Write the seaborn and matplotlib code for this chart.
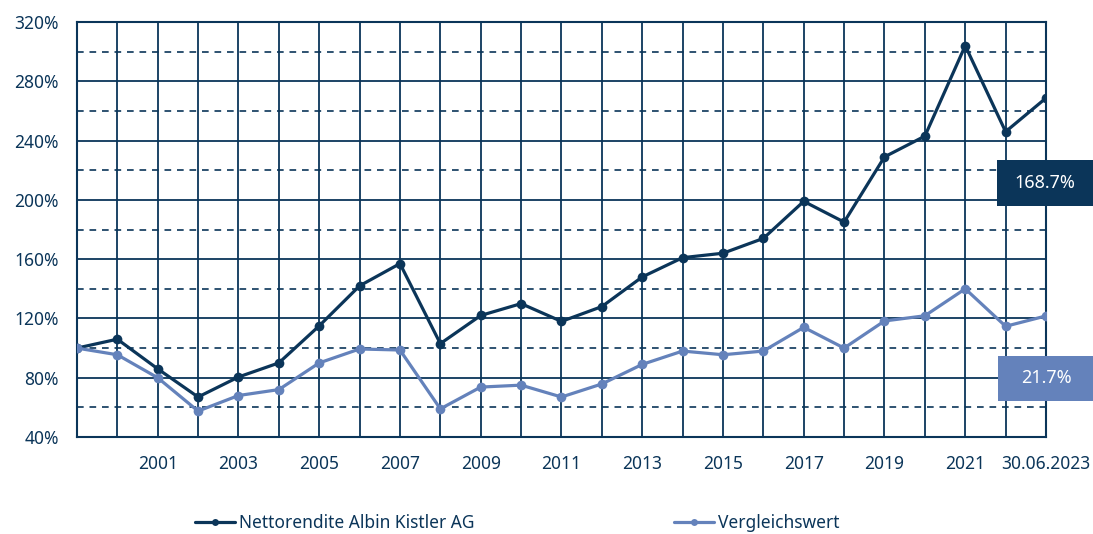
import numpy as np
import pandas as pd
import seaborn as sns
import matplotlib.pyplot as plt
from matplotlib.patches import Rectangle
from matplotlib.ticker import FixedLocator, FuncFormatter

# data
periods = ['1999', '2000', '2001', '2002', '2003', '2004', '2005', '2006', '2007',
           '2008', '2009', '2010', '2011', '2012', '2013', '2014', '2015', '2016',
           '2017', '2018', '2019', '2020', '2021', '2022', '30.06.2023']
albin = [100, 106, 86, 67, 80.5, 90, 115, 142, 157, 103, 122, 130, 118, 128,
         148, 161, 164, 174, 199, 185, 229, 243, 304, 246, 268.7]
vergleich = [100, 95.5, 80, 57.5, 68, 72, 90, 99.4, 98.7, 59, 73.7, 75, 67, 75.8,
             89, 98, 95.5, 98, 114, 100, 118.3, 121.8, 140, 114.7, 121.7]
series_names = ['Nettorendite Albin Kistler AG', 'Vergleichswert']
end_labels = ['168.7%', '21.7%']
y_major = [40, 80, 120, 160, 200, 240, 280, 320]
y_minor = [60, 100, 140, 180, 220, 260, 300]

navy = '#0b3559'
light = '#6482bb'

sns.set_theme(style='white')
plt.rcParams['font.family'] = ['Noto Sans', 'DejaVu Sans']

df = pd.DataFrame({
    'x': list(range(len(periods))) * 2,
    'value': albin + vergleich,
    'series': [series_names[0]] * len(periods) + [series_names[1]] * len(periods),
})

fig = plt.figure(figsize=(10.93, 5.34), dpi=100)
ax = fig.add_axes([0.0704, 0.1816, 0.8866, 0.7772])

sns.lineplot(data=df, x='x', y='value', hue='series', palette=[navy, light],
             marker='o', markersize=7, markeredgewidth=0, linewidth=2.3,
             ax=ax, zorder=5)

ax.set_xlim(0, len(periods) - 1)
ax.set_ylim(40, 320)
ax.xaxis.set_major_locator(FixedLocator(range(len(periods))))
ax.set_xticklabels([p if (i % 2 == 0 and i > 0) else '' for i, p in enumerate(periods)])
ax.yaxis.set_major_locator(FixedLocator(y_major))
ax.yaxis.set_minor_locator(FixedLocator(y_minor))
ax.yaxis.set_major_formatter(FuncFormatter(lambda v, p: f'{v:.0f}%'))

ax.grid(True, which='major', color=navy, linewidth=1.3)
ax.grid(True, which='minor', axis='y', color=navy, linewidth=1.2, linestyle=(0, (4, 3.5)))
ax.set_axisbelow(True)
for s in ax.spines.values():
    s.set_color(navy)
    s.set_linewidth(1.5)

ax.tick_params(axis='both', which='both', length=0, colors=navy, labelsize=12.5)
ax.tick_params(axis='x', pad=13)
ax.tick_params(axis='y', pad=13)
ax.set_xlabel('')
ax.set_ylabel('')

# end value boxes (figure coords)
fig.add_artist(Rectangle((0.9122, 0.6142), 0.0878, 0.0861, transform=fig.transFigure,
                         facecolor=navy, edgecolor='none', zorder=10))
fig.text(0.956, 0.657, end_labels[0], ha='center', va='center', color='white',
         fontsize=13, zorder=11)
fig.add_artist(Rectangle((0.9131, 0.249), 0.0869, 0.0843, transform=fig.transFigure,
                         facecolor=light, edgecolor='none', zorder=10))
fig.text(0.957, 0.2912, end_labels[1], ha='center', va='center', color='white',
         fontsize=13, zorder=11)

leg = ax.legend(loc='center left', bbox_to_anchor=(0.122, -0.207), ncol=2, frameon=False,
                fontsize=12.5, columnspacing=11.45, handlelength=2.3, handletextpad=0.25,
                borderaxespad=0, borderpad=0)
for h in leg.legend_handles:
    h.set_markersize(5)
    h.set_linewidth(2.3)
for t in leg.get_texts():
    t.set_color(navy)

fig.savefig('out.png', dpi=100)
